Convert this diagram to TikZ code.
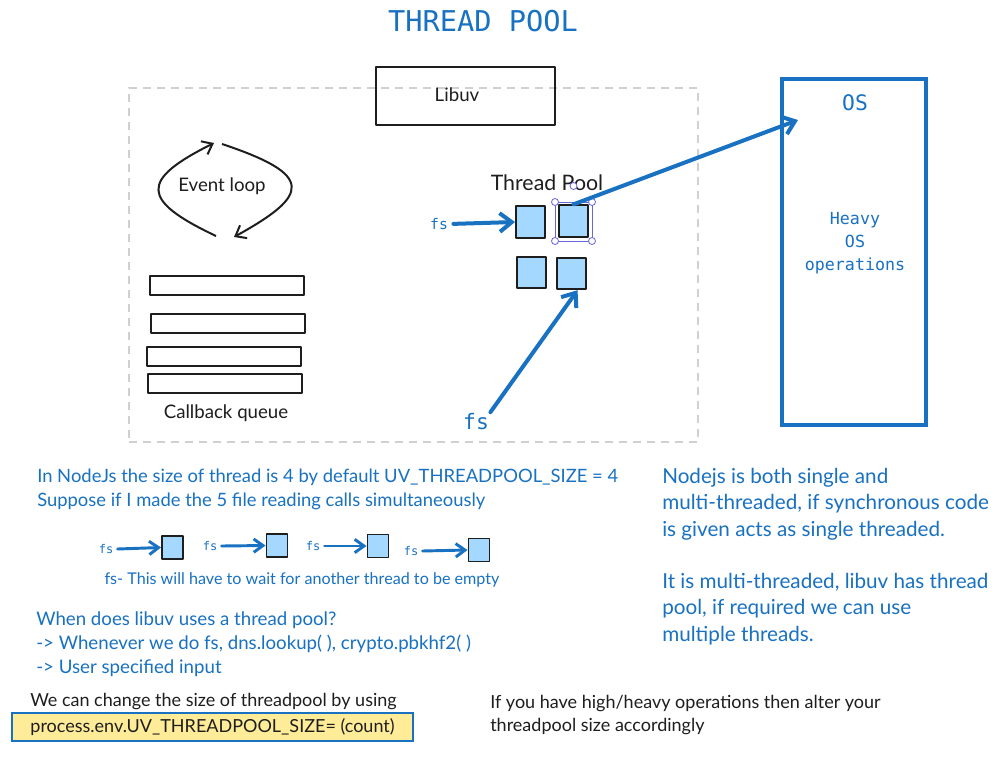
\documentclass[tikz,border=0pt]{standalone}
\usepackage{fontspec}
\setmainfont{Lato}
\newfontfamily\handmono{DejaVu Sans Mono}
\usetikzlibrary{arrows.meta}

\definecolor{xblue}{HTML}{1971C2}
\definecolor{xfill}{HTML}{A5D8FF}
\definecolor{xink}{HTML}{1E1E1E}
\definecolor{xyellow}{HTML}{FFEC99}
\definecolor{xsel}{HTML}{6965DB}
\definecolor{xgray}{HTML}{D0D0D0}

\tikzset{
    sketch/.style={draw=xink, line width=1.5pt, line join=round},
    thread/.style={sketch, fill=xfill, inner sep=0pt, minimum width=21.75pt, minimum height=23.5pt},
    minithread/.style={sketch, line width=1.2pt, fill=xfill, inner sep=0pt, minimum width=16pt, minimum height=17pt},
    queuebar/.style={sketch, inner sep=0pt, minimum width=115.5pt, minimum height=14pt},
    bluearrow/.style={draw=xblue, line width=3pt, line cap=round, -{Straight Barb[length=9pt,width=14pt]}},
    miniarrow/.style={draw=xblue, line width=2.2pt, line cap=round, -{Straight Barb[length=7pt,width=10pt]}},
    loopfont/.style={font=\fontsize{14}{16}\selectfont, text=xink},
    note/.style={anchor=north west, align=left, inner sep=0pt, text=xblue},
    monotext/.style={text=xblue, inner sep=1pt}
}

\begin{document}
\begin{tikzpicture}[x=0.75pt, y=-0.75pt]
    \useasboundingbox[fill=white] (0,0) rectangle (1006,760);

    % Title
    \node[monotext, font=\handmono\fontsize{21.5}{24}\selectfont] (title) at (483,21) {THREAD POOL};

    % Boxes
    \node[draw=xgray, line width=1.1pt, dash pattern=on 6pt off 4.5pt, minimum width=426.75pt, minimum height=265.5pt] (libuvarea) at (413.5,265) {};
    \node[sketch, minimum width=134.25pt, minimum height=43.5pt] (libuv) at (465.5,96) {};
    \node[loopfont] (libuvlabel) at (457,95) {Libuv};
    \node[draw=xblue, line width=2.4pt, minimum width=108pt, minimum height=259.5pt] (os) at (854,252) {};
    \node[monotext, font=\handmono\fontsize{16}{18}\selectfont] (oslabel) at (855,103) {OS};
    \node[monotext, align=center, font=\handmono\fontsize{12.5}{17}\selectfont] (heavy) at (855,243) {Heavy\\OS\\operations};

    % Event loop
    \node[loopfont] (loop) at (222,186) {Event loop};
    \coordinate (loopa) at (216,236);
    \coordinate (loopb) at (214,143);
    \coordinate (loopc) at (222,144);
    \coordinate (loopd) at (234,237);
    \draw[sketch, -{Straight Barb[length=7pt,width=11pt]}] (loopa) .. controls (140,200) and (140,180) .. (loopb);
    \draw[sketch, -{Straight Barb[length=7pt,width=11pt]}] (loopc) .. controls (315,175) and (310,195) .. (loopd);

    % Callback queue
    \node[queuebar] (cb1) at (227,285.5) {};
    \node[queuebar] (cb2) at (228,323.5) {};
    \node[queuebar] (cb3) at (224,356.5) {};
    \node[queuebar] (cb4) at (225,383.5) {};
    \node[loopfont] (cblabel) at (226,413) {Callback queue};

    % Thread pool
    \node[loopfont, font=\fontsize{16}{18}\selectfont] (pool) at (547,183) {Thread Pool};
    \node[thread] (tTL) at (530.5,222) {};
    \node[thread] (tTR) at (573.5,221) {};
    \node[thread] (tBL) at (531.5,272.5) {};
    \node[thread] (tBR) at (571.5,273.5) {};

    % Selection handles
    \draw[xsel, line width=0.6pt] (555,202) rectangle (592,241);
    \foreach \hx/\hy in {555/202, 592/202, 555/241, 592/241, 573.5/186}
        \draw[xsel, line width=0.6pt, fill=white] (\hx,\hy) circle (3.5);

    % Arcs
    \node[monotext, font=\handmono\fontsize{11}{13}\selectfont] (fsA) at (439,224) {fs};
    \draw[bluearrow, shorten <=3pt] (fsA.east) -- (tTL.west);
    \node[monotext, font=\handmono\fontsize{16}{18}\selectfont] (fsB) at (476,422) {fs};
    \draw[bluearrow] (fsB.north east) -- (tBR.290);
    \coordinate (osin) at (798,120);
    \draw[bluearrow] (tTR.north) -- (osin);

    % Notes
    \node[note, font=\fontsize{13.8}{18}\selectfont] (default) at (37,469) {In NodeJs the size of thread is 4 by default UV\_THREADPOOL\_SIZE = 4\\Suppose if I made the 5 file reading calls simultaneously};

    % Waiting calls
    \node[minithread] (w1) at (172.5,547.5) {};
    \node[minithread] (w2) at (277,545.5) {};
    \node[minithread] (w3) at (378,546) {};
    \node[minithread] (w4) at (479,550) {};
    \foreach \i/\fx/\fy in {1/106/549, 2/210/546, 3/313/546, 4/411/551} {
        \node[monotext, inner sep=0pt, font=\handmono\fontsize{9}{10}\selectfont] (fs\i) at (\fx,\fy) {fs};
        \draw[miniarrow] ([xshift=3pt]fs\i.east) -- (w\i.west);
    }
    \node[text=xblue, font=\fontsize{12.1}{14}\selectfont] (wait) at (302,580) {fs- This will have to wait for another thread to be empty};

    \node[note, font=\fontsize{14}{18}\selectfont] (when) at (36,611) {When does libuv uses a thread pool?\\-> Whenever we do fs, dns.lookup( ), crypto.pbkhf2( )\\-> User specified input};

    \node[note, text=xink, font=\fontsize{13.5}{17}\selectfont] (change) at (30,693) {We can change the size of threadpool by using};
    \node[draw=xblue, line width=0.8pt, fill=xyellow, text=xink, font=\fontsize{13.5}{17}\selectfont, minimum height=21pt, minimum width=300.75pt] (envvar) at (212.5,727) {process.env.UV\_THREADPOOL\_SIZE= (count)};

    \node[note, font=\fontsize{15.5}{19.7}\selectfont] (nodejs) at (662,468) {Nodejs is both single and\\multi-threaded, if synchronous code\\is given acts as single threaded.};
    \node[note, font=\fontsize{15.5}{19.7}\selectfont] (multi) at (662,573) {It is multi-threaded, libuv has thread\\pool, if required we can use\\multiple threads.};

    \node[note, text=xink, font=\fontsize{13.5}{17}\selectfont] (heavyops) at (490,695) {If you have high/heavy operations then alter your\\threadpool size accordingly};
\end{tikzpicture}
\end{document}
